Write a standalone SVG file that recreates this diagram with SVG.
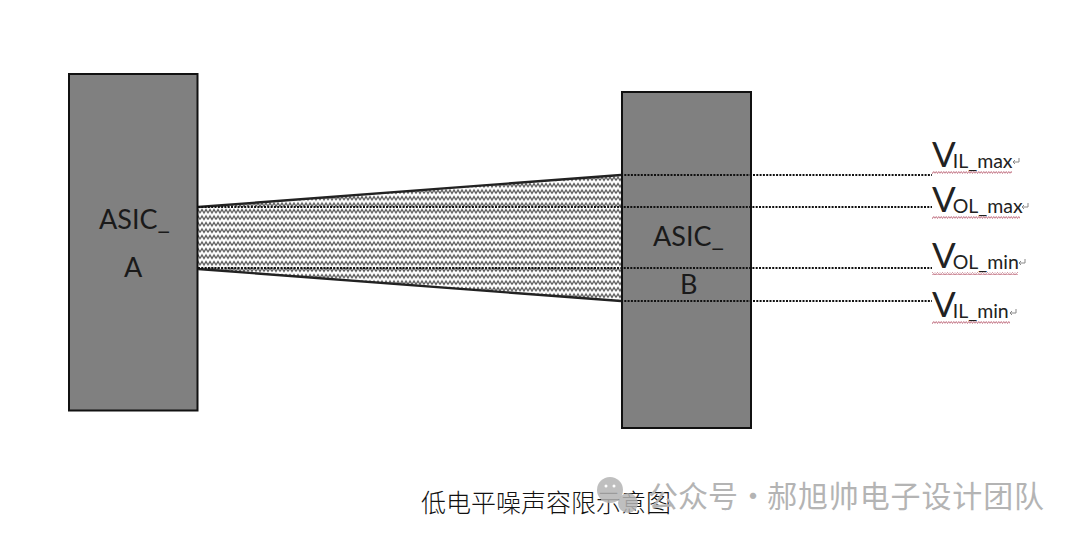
<svg xmlns="http://www.w3.org/2000/svg" width="1080" height="539" viewBox="0 0 1080 539">
<style>
.box{fill:#808080;stroke:#111;stroke-width:2}
.lbl{font-family:Lato,"Open Sans",sans-serif;font-size:27px;fill:#1a1a1a}
.v{font-family:Lato,"Open Sans",sans-serif;fill:#222}
.big{font-size:35px}
.sub{font-size:19.500px}
.dot{fill:none;stroke:#111;stroke-width:2;stroke-dasharray:2 1.300}
.edge{fill:none;stroke:#222;stroke-width:2.400}
.sq{fill:url(#squig)}
.ret{fill:none;stroke:#888;stroke-width:1}
.cap{font-family:"Noto Sans CJK SC",sans-serif;font-size:25px;font-weight:300;fill:#111}
.wm{font-family:"Noto Sans CJK SC",sans-serif;font-size:30px;fill:#b4b4b4}
</style>
<defs>
<pattern id="wave" width="8" height="6.500" patternUnits="userSpaceOnUse">
<rect width="8" height="6.500" fill="#fff"/>
<path d="M0 5 L2 1.500 L4 5 L6 1.500 L8 5" fill="none" stroke="#555" stroke-width="1.200"/>
</pattern>
<pattern id="squig" width="5" height="3" patternUnits="userSpaceOnUse">
<path d="M0 2.500 L1.250 .5 L2.500 2.500 L3.750 .5 L5 2.500" fill="none" stroke="#bd6a7c" stroke-width=".9"/>
</pattern>
</defs>
<rect width="1080" height="539" fill="#fff"/>
<g id="band">
<polygon points="198,207 621,175 621,301 198,269" fill="url(#wave)"/>
</g>
<g id="asic-a">
<rect class="box" x="69" y="74" width="128.500" height="336.500"/>
<text class="lbl" x="99" y="229">ASIC_</text>
<text class="lbl" x="124" y="277">A</text>
</g>
<g id="asic-b">
<rect class="box" x="622" y="92" width="129" height="336"/>
<text class="lbl" x="653" y="246">ASIC_</text>
<text class="lbl" x="680" y="294">B</text>
</g>
<g id="connectors">
<path class="edge" d="M198 207 L621 175"/>
<path class="edge" d="M198 269 L621 301"/>
<path class="dot" d="M621 175 H932"/>
<path class="dot" d="M198 207 H932"/>
<path class="dot" d="M198 268 H932"/>
<path class="dot" d="M621 301 H932"/>
</g>
<g id="vil-max">
<text class="v" x="932" y="167"><tspan class="big">V</tspan><tspan class="sub" dx="-3" dy="1">IL_max</tspan></text>
<rect class="sq" x="932" y="171" width="80" height="3"/>
<path class="ret" d="M1019 158 V162 H1013 M1015 160 L1013 162 L1015 164"/>
</g>
<g id="vol-max">
<text class="v" x="932" y="212"><tspan class="big">V</tspan><tspan class="sub" dx="-3" dy="1">OL_max</tspan></text>
<rect class="sq" x="932" y="216" width="88" height="3"/>
<path class="ret" d="M1028 203 V207 H1022 M1024 205 L1022 207 L1024 209"/>
</g>
<g id="vol-min">
<text class="v" x="932" y="268"><tspan class="big">V</tspan><tspan class="sub" dx="-3" dy="1">OL_min</tspan></text>
<rect class="sq" x="932" y="272" width="86" height="3"/>
<path class="ret" d="M1025 259 V263 H1019 M1021 261 L1019 263 L1021 265"/>
</g>
<g id="vil-min">
<text class="v" x="932" y="317"><tspan class="big">V</tspan><tspan class="sub" dx="-3" dy="1">IL_min</tspan></text>
<rect class="sq" x="932" y="321" width="78" height="3"/>
<path class="ret" d="M1016 309 V313 H1010 M1012 311 L1010 313 L1012 315"/>
</g>
<g id="caption">
<text class="cap" x="421" y="512">低电平噪声容限示意图</text>
</g>
<g id="watermark">
<circle cx="610" cy="490" r="13" fill="#b4b4b4" opacity=".85"/>
<circle cx="628" cy="503" r="10" fill="#b4b4b4" opacity=".85"/>
<circle cx="606" cy="486" r="1.500" fill="#fff"/>
<circle cx="614" cy="486" r="1.500" fill="#fff"/>
<text class="wm" x="648" y="507">公众号</text>
<text class="wm" x="738" y="507">·</text>
<text class="wm" x="767" y="507" textLength="277">郝旭帅电子设计团队</text>
</g>
</svg>
